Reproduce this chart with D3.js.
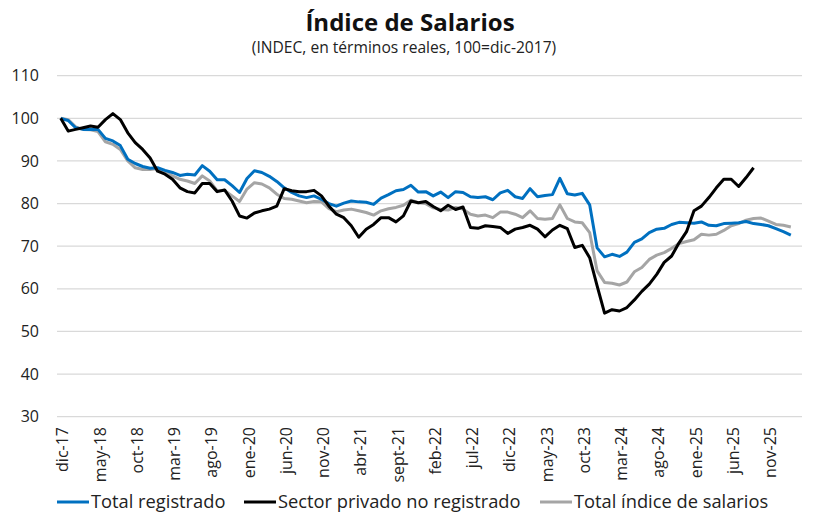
<!DOCTYPE html>
<html>
<head>
<meta charset="utf-8">
<script src="https://cdn.jsdelivr.net/npm/d3@7"></script>
<style>
  body { margin: 0; background: #fff; }
  svg { font-family: "Open Sans", sans-serif; }
  .grid line { stroke: #d9d9d9; stroke-width: 1.3; }
  .tick-y { font-size: 16px; fill: #222; }
  .tick-x { font-size: 16px; fill: #222; }
  .legend text { font-size: 18.3px; fill: #222; }
</style>
</head>
<body>
<svg width="819" height="526"></svg>
<script>
// meses abreviados (como en el eje)
var monthNames = ["ene","feb","mar","abr","may","jun","jul","ago","sept","oct","nov","dic"];
var nCategories = 100; // dic-17 ... mar-26

var tickLabels = ["dic-17","may-18","oct-18","mar-19","ago-19","ene-20","jun-20","nov-20",
  "abr-21","sept-21","feb-22","jul-22","dic-22","may-23","oct-23","mar-24","ago-24",
  "ene-25","jun-25","nov-25"];

var yTicks = [30, 40, 50, 60, 70, 80, 90, 100, 110];

var totalRegistrado = [
  100, 99.5, 97.8, 97.4, 97.4, 97.4, 95.3, 94.7, 93.6, 90.4,
  89.4, 88.7, 88.3, 88.4, 87.8, 87.3, 86.6, 86.9, 86.7, 88.9,
  87.6, 85.6, 85.6, 84.2, 82.6, 85.9, 87.7, 87.3, 86.4, 85.2,
  83.7, 82.6, 81.8, 81.4, 81.8, 81.0, 80.0, 79.4, 80.1, 80.6,
  80.4, 80.3, 79.8, 81.3, 82.1, 83.0, 83.3, 84.3, 82.7, 82.8,
  81.8, 82.7, 81.4, 82.8, 82.6, 81.6, 81.4, 81.6, 80.9, 82.5,
  83.1, 81.6, 81.2, 83.5, 81.6, 81.9, 82.1, 85.9, 82.3, 82.0,
  82.4, 79.7, 69.6, 67.5, 68.1, 67.6, 68.6, 70.9, 71.7, 73.2,
  74.0, 74.2, 75.1, 75.6, 75.5, 75.4, 75.7, 74.9, 74.8, 75.3,
  75.4, 75.5, 75.8, 75.3, 75.1, 74.8, 74.1, 73.4, 72.6
];

var privadoNoRegistrado = [
  100, 97.0, 97.4, 97.8, 98.2, 97.9, 99.7, 101.1, 99.7, 96.6,
  94.3, 92.7, 90.7, 87.6, 86.9, 85.7, 83.7, 82.8, 82.5, 84.7,
  84.7, 82.8, 83.2, 80.6, 77.1, 76.6, 77.8, 78.3, 78.7, 79.4,
  83.5, 83.0, 82.8, 82.8, 83.1, 81.8, 79.4, 77.5, 76.7, 74.8,
  72.1, 74.0, 75.1, 76.7, 76.7, 75.7, 77.1, 80.6, 80.2, 80.5,
  79.3, 78.3, 79.6, 78.6, 79.2, 74.4, 74.2, 74.8, 74.6, 74.4,
  73.0, 74.0, 74.4, 74.9, 74.0, 72.2, 73.8, 74.9, 74.1, 69.7,
  70.2, 67.3, 60.7, 54.3, 55.1, 54.8, 55.6, 57.4, 59.4, 61.1,
  63.4, 66.2, 67.7, 70.8, 73.4, 78.3, 79.4, 81.4, 83.7, 85.7,
  85.7, 84.0, 86.1, 88.4
];

var totalIndice = [
  100, 99.7, 98.0, 97.4, 97.3, 96.9, 94.5, 93.9, 92.7, 90.0,
  88.4, 88.0, 88.0, 88.2, 87.3, 86.5, 85.7, 85.3, 84.7, 86.5,
  85.3, 83.0, 83.1, 81.8, 80.5, 83.4, 84.9, 84.6, 83.7, 82.2,
  81.2, 81.0, 80.6, 80.2, 80.5, 80.4, 78.8, 78.1, 78.5, 78.7,
  78.3, 77.9, 77.3, 78.3, 78.8, 79.1, 79.6, 80.8, 80.2, 80.0,
  79.0, 78.6, 78.5, 79.1, 78.7, 77.5, 77.1, 77.3, 76.7, 78.0,
  78.0, 77.5, 76.7, 78.3, 76.5, 76.3, 76.5, 79.7, 76.5, 75.7,
  75.5, 73.2, 64.2, 61.5, 61.3, 60.9, 61.6, 64.0, 65.0, 66.9,
  67.9, 68.5, 69.5, 70.6, 71.1, 71.5, 72.8, 72.6, 72.8, 73.7,
  74.8, 75.3, 76.1, 76.5, 76.6, 75.9, 75.1, 74.9, 74.5
];

var seriesNames = ["Total registrado", "Sector privado no registrado", "Total índice de salarios"];
var seriesColors = ["#0070c0", "#000000", "#a5a5a5"];

// categorias mensuales a partir de dic-17
var months = [];
for (var i = 0; i < nCategories; i++) {
  var m = (11 + i) % 12;
  var yr = 17 + Math.floor((11 + i) / 12);
  months.push(monthNames[m] + "-" + yr);
}

var svg = d3.select("svg");

var x = d3.scaleBand().domain(months).range([57, 802]);
var y = d3.scaleLinear().domain([30, 110]).range([416.7, 75.7]);
function cx(d) { return x(d) + x.bandwidth() / 2; }

// lineas de grilla
svg.append("g").attr("class", "grid")
  .selectAll("line")
  .data(yTicks)
  .enter()
  .append("line")
  .attr("x1", 57).attr("x2", 802)
  .attr("y1", function(d) { return y(d); })
  .attr("y2", function(d) { return y(d); });

// eje y
svg.append("g")
  .selectAll("text")
  .data(yTicks)
  .enter()
  .append("text")
  .attr("class", "tick-y")
  .attr("x", 39)
  .attr("y", function(d) { return y(d); })
  .attr("dy", "0.35em")
  .attr("text-anchor", "end")
  .text(function(d) { return d; });

// eje x
svg.append("g")
  .selectAll("text")
  .data(tickLabels)
  .enter()
  .append("text")
  .attr("class", "tick-x")
  .attr("text-anchor", "end")
  .attr("dy", "0.35em")
  .attr("transform", function(d) { return "translate(" + (cx(d) + 2) + ",427) rotate(-90)"; })
  .text(function(d) { return d; });

// series
var allSeries = [totalRegistrado, privadoNoRegistrado, totalIndice];
var line = d3.line()
  .x(function(d, i) { return cx(months[i]); })
  .y(function(d) { return y(d); });

[2, 0, 1].forEach(function(k) {
  svg.append("path")
    .datum(allSeries[k])
    .attr("fill", "none")
    .attr("stroke", seriesColors[k])
    .attr("stroke-width", 3)
    .attr("stroke-linejoin", "round")
    .attr("d", line);
});

// titulo
svg.append("text")
  .attr("x", 410).attr("y", 31)
  .attr("text-anchor", "middle")
  .style("font-size", "24px").style("font-weight", "bold").style("fill", "#111")
  .text("Índice de Salarios");

svg.append("text")
  .attr("x", 404).attr("y", 53)
  .attr("text-anchor", "middle")
  .style("font-size", "15.6px").style("fill", "#222")
  .text("(INDEC, en términos reales, 100=dic-2017)");

// leyenda
var legendX = [57, 244, 540];
var legend = svg.append("g").attr("class", "legend")
  .selectAll("g")
  .data(seriesNames)
  .enter()
  .append("g")
  .attr("transform", function(d, i) { return "translate(" + legendX[i] + ",502)"; });

legend.append("line")
  .attr("x1", 0).attr("x2", 32)
  .attr("stroke", function(d, i) { return seriesColors[i]; })
  .attr("stroke-width", 3);

legend.append("text")
  .attr("x", 34).attr("dy", "0.35em")
  .text(function(d) { return d; });
</script>
</body>
</html>
